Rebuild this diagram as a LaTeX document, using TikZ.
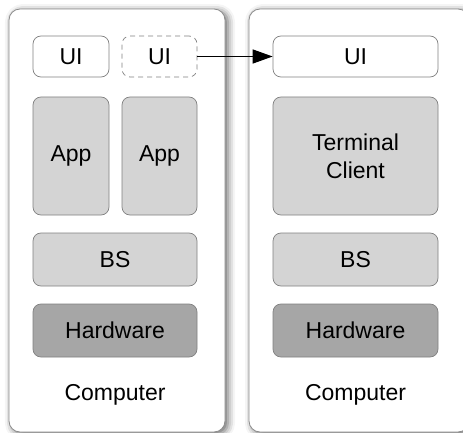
\documentclass[tikz,border=0pt]{standalone}
\usepackage{fontspec}
\setmainfont{Liberation Sans}
\usetikzlibrary{arrows.meta,shadows.blur}

\tikzset{
  computer/.style={draw=black!45, line width=0.8pt, fill=white, rounded corners=11pt,
    blur shadow={shadow xshift=3pt, shadow yshift=-2pt, shadow blur radius=7pt, shadow opacity=60}},
  layer/.style={draw=black!50, line width=0.7pt, rounded corners=8pt, inner sep=0pt,
    font=\fontsize{23}{28}\selectfont, align=center},
  uibox/.style={layer, fill=white},
  appbox/.style={layer, fill=black!17},
  hwbox/.style={layer, fill=black!35},
  label/.style={font=\fontsize{23}{28}\selectfont},
  link/.style={line width=1.5pt, -{Triangle[length=20pt, width=14pt]}}
}

\begin{document}
\begin{tikzpicture}[x=1pt, y=-1pt]
  \useasboundingbox (0,0) rectangle (463,433);

  % the two computers
  \node[computer, minimum width=216pt, minimum height=423pt] (pcA) at (117,220.5) {};
  \node[computer, minimum width=220pt, minimum height=423pt] (pcB) at (359,220.5) {};

  % left computer: two UIs, two apps, BS, hardware
  \node[uibox, minimum width=76pt, minimum height=41pt] (uiA) at (71,56.5) {UI};
  \node[uibox, dashed, dash pattern=on 5pt off 4pt, minimum width=75pt, minimum height=41pt] (uiB) at (159.5,56.5) {UI};
  \node[appbox, minimum width=76pt, minimum height=118pt] (appA) at (71,156) {App};
  \node[appbox, minimum width=75pt, minimum height=118pt] (appB) at (159.5,156) {App};
  \node[appbox, minimum width=164pt, minimum height=53pt] (bsA) at (115,259.5) {BS};
  \node[hwbox, minimum width=164pt, minimum height=53pt] (hwA) at (115,330.5) {Hardware};
  \node[label] (nameA) at (115,395) {Computer};

  % right computer: UI, terminal client, BS, hardware
  \node[uibox, minimum width=165pt, minimum height=41pt] (uiC) at (355.5,56.5) {UI};
  \node[appbox, minimum width=165pt, minimum height=118pt] (term) at (355.5,156) {Terminal\\Client};
  \node[appbox, minimum width=165pt, minimum height=53pt] (bsB) at (355.5,259.5) {BS};
  \node[hwbox, minimum width=165pt, minimum height=53pt] (hwB) at (355.5,330.5) {Hardware};
  \node[label] (nameB) at (355.5,395) {Computer};

  % the UI moves to the terminal
  \draw[link] (uiB.east) -- (uiC.west);
\end{tikzpicture}
\end{document}
